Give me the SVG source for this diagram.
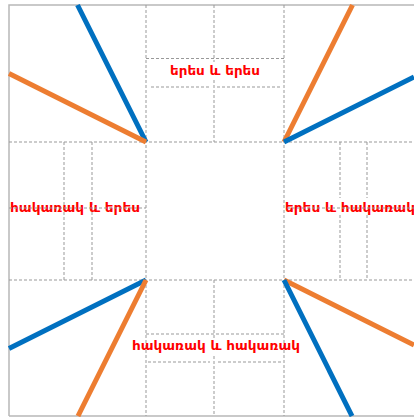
<svg xmlns="http://www.w3.org/2000/svg" width="414" height="417" viewBox="0 0 414 417">
  <style>
    .grid line { stroke: #999999; stroke-width: 1; stroke-dasharray: 3 2; fill: none; }
    .border { stroke: #b8b8b8; stroke-width: 1.5; fill: none; }
    .blue { stroke: #0070c0; stroke-width: 5; }
    .orange { stroke: #ed7d31; stroke-width: 5; }
    .lbl { font-family: "DejaVu Sans", sans-serif; font-weight: bold; font-size: 13px; fill: #ff0000; text-anchor: middle; }
  </style>
  <rect x="0" y="0" width="414" height="417" fill="#ffffff"/>
  <path class="border" d="M9,416 V5 H414 M9,416 H414"/>
  <g id="grid" class="grid">
    <line x1="9" y1="142" x2="414" y2="142"/>
    <line x1="9" y1="280" x2="414" y2="280"/>
    <line x1="146" y1="5" x2="146" y2="416"/>
    <line x1="284" y1="5" x2="284" y2="416"/>
    <!-- top band -->
    <line x1="214" y1="5" x2="214" y2="62"/>
    <line x1="214" y1="80" x2="214" y2="142"/>
    <line x1="146" y1="58.5" x2="284" y2="58.5"/>
    <line x1="151" y1="87" x2="209" y2="87"/>
    <line x1="217" y1="87" x2="280" y2="87"/>
    <!-- bottom band -->
    <line x1="214" y1="280" x2="214" y2="338"/>
    <line x1="214" y1="356" x2="214" y2="416"/>
    <line x1="146" y1="334" x2="284" y2="334"/>
    <line x1="148" y1="362" x2="210" y2="362"/>
    <line x1="218" y1="362" x2="282" y2="362"/>
    <!-- left band -->
    <line x1="64" y1="142" x2="64" y2="280"/>
    <line x1="92" y1="142" x2="92" y2="280"/>
    <!-- right band -->
    <line x1="340" y1="142" x2="340" y2="198"/>
    <line x1="340" y1="215" x2="340" y2="280"/>
    <line x1="367" y1="142" x2="367" y2="198"/>
    <line x1="367" y1="215" x2="367" y2="280"/>
  </g>
  <g id="connectors">
    <line class="blue" x1="146" y1="142" x2="77.5" y2="5"/>
    <line class="orange" x1="146" y1="142" x2="9" y2="73.5"/>
    <line class="orange" x1="284" y1="142" x2="352.5" y2="5"/>
    <line class="blue" x1="284" y1="142" x2="414" y2="77"/>
    <line class="blue" x1="146" y1="280" x2="9" y2="348.5"/>
    <line class="orange" x1="146" y1="280" x2="78" y2="416"/>
    <line class="orange" x1="284" y1="280" x2="414" y2="345"/>
    <line class="blue" x1="284" y1="280" x2="352" y2="416"/>
  </g>
  <g id="label-top"><text class="lbl" x="215" y="75" textLength="90" lengthAdjust="spacingAndGlyphs">երես և երես</text></g>
  <g id="label-left"><text class="lbl" x="75" y="212" textLength="130" lengthAdjust="spacingAndGlyphs">հակառակ և երես</text></g>
  <g id="label-right"><text class="lbl" x="350" y="212" textLength="130" lengthAdjust="spacingAndGlyphs">երես և հակառակ</text></g>
  <g id="label-bottom"><text class="lbl" x="216" y="350" textLength="168" lengthAdjust="spacingAndGlyphs">հակառակ և հակառակ</text></g>
  <g id="strike" class="grid">
    <line x1="9" y1="208" x2="146" y2="208"/>
    <line x1="287" y1="208" x2="414" y2="208"/>
  </g>
</svg>
